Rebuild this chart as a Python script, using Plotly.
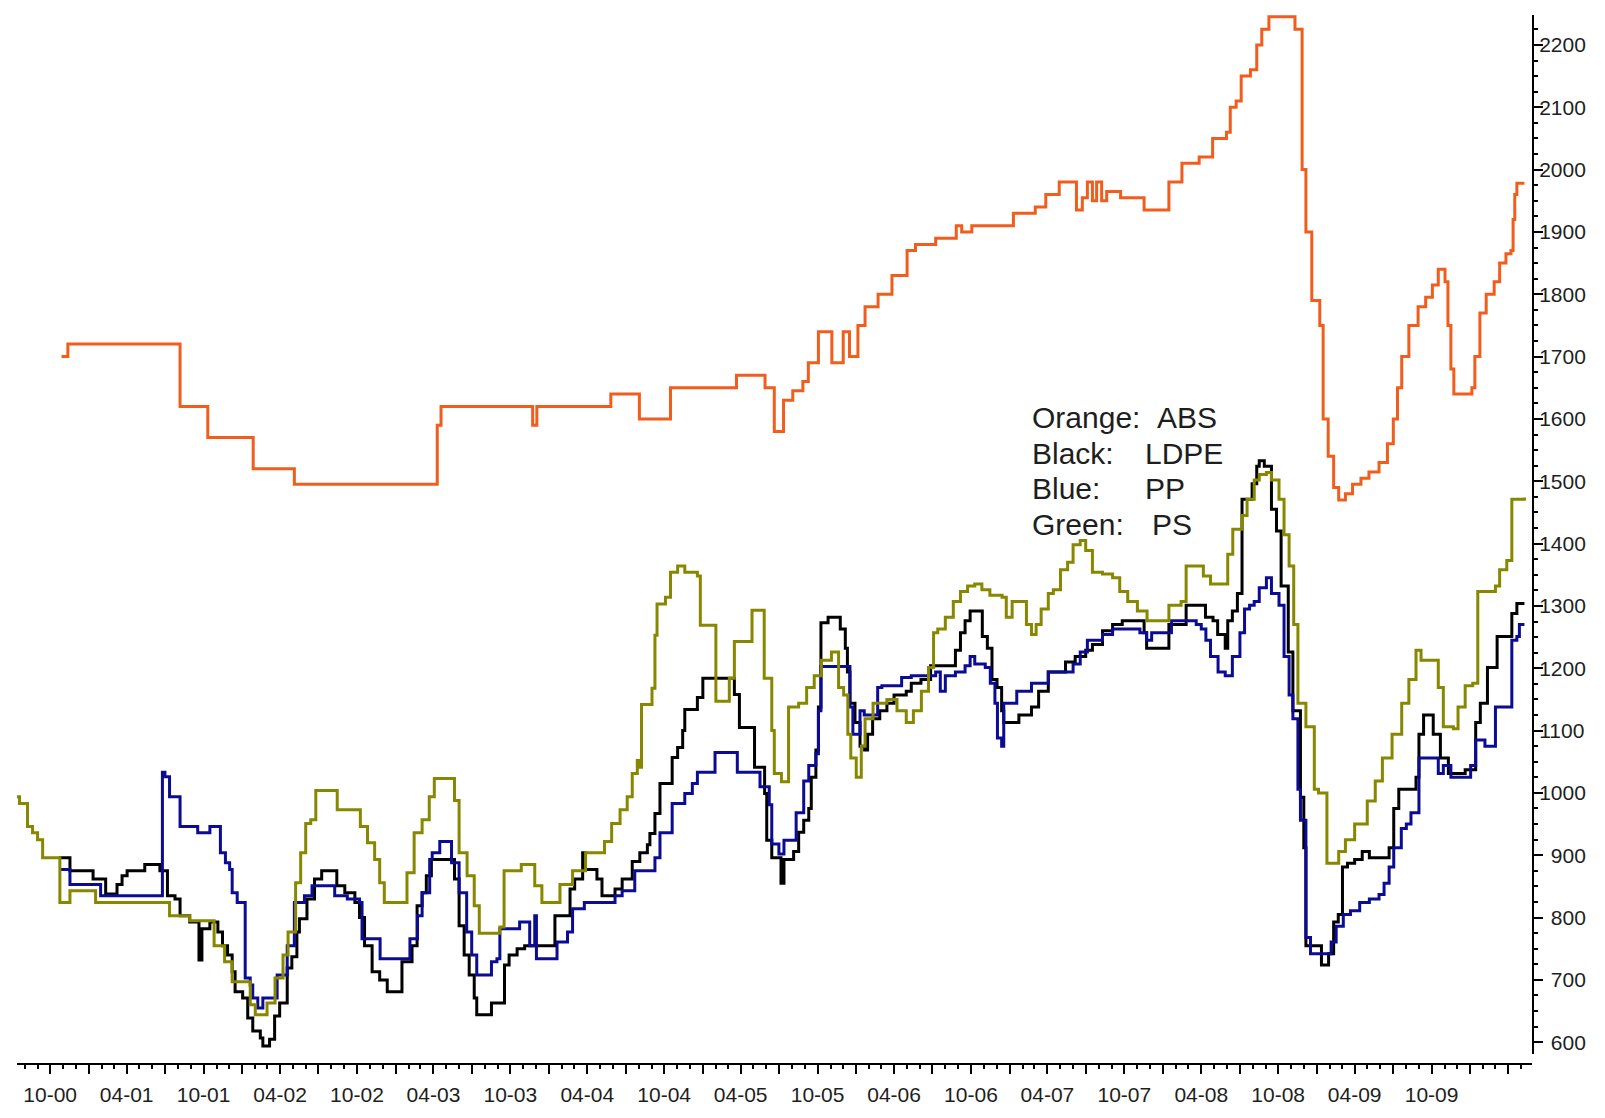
import plotly.graph_objects as go

# ---------------- data ----------------
ABS_DATES = ["2000-10-28", "2000-11-12", "2001-08-06", "2001-10-11", "2002-01-27", "2002-05-05",
             "2003-04-10", "2003-04-19", "2003-11-23", "2003-12-03", "2004-05-27", "2004-08-03",
             "2004-10-16", "2005-03-22", "2005-05-29", "2005-06-20", "2005-07-12", "2005-08-03",
             "2005-08-27", "2005-09-09", "2005-10-03", "2005-11-04", "2005-12-01", "2005-12-16",
             "2006-01-05", "2006-01-22", "2006-02-22", "2006-03-27", "2006-05-02", "2006-05-22",
             "2006-07-09", "2006-08-27", "2006-09-09", "2006-10-03", "2007-01-10", "2007-03-03",
             "2007-03-28", "2007-04-29", "2007-06-09", "2007-06-23", "2007-07-05", "2007-07-17",
             "2007-07-27", "2007-08-08", "2007-08-20", "2007-09-22", "2007-11-17", "2008-01-15",
             "2008-02-15", "2008-03-27", "2008-04-28", "2008-05-31", "2008-06-09", "2008-06-23",
             "2008-07-05", "2008-07-27", "2008-08-11", "2008-08-23", "2008-09-09", "2008-11-10",
             "2008-11-27", "2008-12-06", "2008-12-20", "2009-01-08", "2009-01-16", "2009-01-28",
             "2009-02-10", "2009-02-22", "2009-03-10", "2009-03-27", "2009-04-16", "2009-05-05",
             "2009-05-29", "2009-06-18", "2009-07-02", "2009-07-12", "2009-07-22", "2009-08-08",
             "2009-08-30", "2009-09-17", "2009-10-03", "2009-10-17", "2009-11-02", "2009-11-09",
             "2009-11-16", "2009-11-23", "2010-01-05", "2010-01-12", "2010-01-24", "2010-02-08",
             "2010-02-27", "2010-03-12", "2010-03-27", "2010-04-08", "2010-04-13", "2010-04-17",
             "2010-04-22", "2010-05-10"]
ABS_PRICES = [1700, 1720, 1620, 1570, 1520, 1495,
              1590, 1620, 1590, 1620, 1640, 1600,
              1650, 1670, 1650, 1580, 1630, 1645,
              1660, 1690, 1740, 1690, 1740, 1700,
              1750, 1780, 1800, 1830, 1870, 1880,
              1890, 1910, 1900, 1910, 1930, 1940,
              1960, 1980, 1935, 1955, 1980, 1950,
              1980, 1950, 1965, 1955, 1935, 1980,
              2010, 2020, 2050, 2060, 2100, 2110,
              2150, 2160, 2200, 2225, 2245, 2225,
              2000, 1900, 1790, 1750, 1600, 1540,
              1490, 1470, 1480, 1495, 1505, 1515,
              1530, 1560, 1600, 1650, 1700, 1750,
              1780, 1795, 1815, 1840, 1820, 1750,
              1680, 1640, 1650, 1700, 1770, 1800,
              1820, 1850, 1865, 1870, 1920, 1960,
              1978, 1978]

LDPE_DATES = ["2000-10-22", "2000-11-17", "2001-01-11", "2001-02-10", "2001-03-09", "2001-03-21",
              "2001-04-02", "2001-05-14", "2001-06-19", "2001-07-07", "2001-07-25", "2001-08-06",
              "2001-08-29", "2001-09-20", "2001-09-27", "2001-10-16", "2001-11-04", "2001-11-15",
              "2001-11-27", "2001-12-08", "2001-12-15", "2002-01-02", "2002-01-14", "2002-01-26",
              "2002-02-13", "2002-02-19", "2002-03-07", "2002-03-19", "2002-03-31", "2002-04-18",
              "2002-04-29", "2002-05-11", "2002-05-17", "2002-06-04", "2002-06-22", "2002-07-09",
              "2002-08-14", "2002-09-02", "2002-09-26", "2002-10-07", "2002-10-19", "2002-11-06",
              "2002-11-24", "2002-12-12", "2003-01-16", "2003-02-09", "2003-02-21", "2003-03-05",
              "2003-03-15", "2003-03-27", "2003-05-21", "2003-06-01", "2003-06-13", "2003-06-25",
              "2003-07-07", "2003-07-13", "2003-08-17", "2003-09-17", "2003-09-28", "2003-10-17",
              "2003-11-04", "2004-01-15", "2004-02-20", "2004-03-02", "2004-03-21", "2004-03-27",
              "2004-04-24", "2004-05-06", "2004-06-06", "2004-06-23", "2004-07-17", "2004-08-04",
              "2004-08-22", "2004-08-28", "2004-09-09", "2004-09-21", "2004-10-20", "2004-11-02",
              "2004-11-14", "2004-11-19", "2004-12-19", "2005-01-01", "2005-03-17", "2005-03-29",
              "2005-05-04", "2005-05-28", "2005-06-02", "2005-06-14", "2005-07-06", "2005-07-13",
              "2005-08-05", "2005-08-17", "2005-08-29", "2005-09-10", "2005-09-16", "2005-09-27",
              "2005-10-03", "2005-10-09", "2005-10-26", "2005-11-24", "2005-12-06", "2005-12-11",
              "2005-12-17", "2005-12-29", "2006-01-10", "2006-01-21", "2006-01-28", "2006-02-09",
              "2006-02-26", "2006-03-15", "2006-04-01", "2006-04-30", "2006-05-12", "2006-06-04",
              "2006-06-27", "2006-08-25", "2006-09-06", "2006-09-17", "2006-09-29", "2006-10-28",
              "2006-11-09", "2006-11-20", "2006-12-02", "2006-12-13", "2006-12-18", "2007-01-23",
              "2007-02-22", "2007-03-11", "2007-04-03", "2007-05-14", "2007-06-06", "2007-07-01",
              "2007-07-17", "2007-08-10", "2007-09-03", "2007-09-26", "2007-11-17", "2007-11-23",
              "2008-01-15", "2008-02-25", "2008-04-11", "2008-04-29", "2008-05-10", "2008-05-28",
              "2008-06-03", "2008-06-14", "2008-06-26", "2008-07-07", "2008-07-31", "2008-08-11",
              "2008-08-17", "2008-08-29", "2008-09-15", "2008-09-27", "2008-10-08", "2008-10-25",
              "2008-11-05", "2008-11-23", "2008-12-01", "2008-12-06", "2009-01-12", "2009-01-29",
              "2009-02-10", "2009-02-21", "2009-03-03", "2009-03-15", "2009-04-01", "2009-04-19",
              "2009-05-06", "2009-06-22", "2009-07-03", "2009-07-15", "2009-08-25", "2009-09-01",
              "2009-09-12", "2009-10-05", "2009-10-22", "2009-11-10", "2009-12-20", "2010-01-14",
              "2010-01-25", "2010-02-11", "2010-03-06", "2010-04-10", "2010-04-22", "2010-05-10"]
LDPE_PRICES = [896, 875, 862, 838, 853, 867,
               875, 885, 875, 835, 830, 803,
               793, 732, 782, 793, 777, 755,
               740, 713, 681, 671, 639, 618,
               607, 594, 605, 642, 663, 719,
               737, 777, 798, 830, 862, 875,
               851, 840, 824, 800, 755, 713,
               700, 681, 729, 755, 819, 840,
               867, 893, 862, 787, 740, 708,
               671, 644, 663, 724, 740, 750,
               755, 803, 846, 862, 904, 877,
               862, 835, 846, 862, 890, 904,
               917, 935, 967, 1015, 1057, 1073,
               1100, 1134, 1153, 1184, 1158, 1105,
               1041, 999, 924, 896, 855, 893,
               906, 937, 956, 975, 1025, 1069,
               1138, 1273, 1282, 1263, 1232, 1194,
               1144, 1113, 1075, 1069, 1094, 1119,
               1132, 1144, 1157, 1163, 1176, 1182,
               1204, 1229, 1257, 1276, 1292, 1251,
               1232, 1182, 1169, 1132, 1113, 1125,
               1138, 1163, 1194, 1210, 1219, 1229,
               1238, 1260, 1270, 1276, 1257, 1232,
               1270, 1301, 1282, 1276, 1254, 1232,
               1276, 1292, 1320, 1471, 1496, 1524,
               1533, 1524, 1455, 1420, 1332, 1226,
               1132, 993, 912, 755, 724, 742,
               793, 805, 881, 887, 893, 906,
               896, 912, 975, 1006, 1025, 1094,
               1125, 1094, 1056, 1031, 1037, 1113,
               1144, 1201, 1251, 1288, 1304, 1304]

PP_DATES = ["2000-10-24", "2000-11-17", "2001-01-29", "2001-06-25", "2001-07-01", "2001-07-12",
            "2001-08-06", "2001-09-17", "2001-10-16", "2001-11-10", "2001-11-22", "2001-12-02",
            "2001-12-08", "2001-12-20", "2002-01-08", "2002-01-20", "2002-01-26", "2002-02-07",
            "2002-02-19", "2002-03-25", "2002-04-18", "2002-05-05", "2002-05-29", "2002-06-16",
            "2002-08-09", "2002-09-08", "2002-10-07", "2002-10-13", "2002-11-25", "2003-02-04",
            "2003-02-22", "2003-03-05", "2003-03-23", "2003-03-29", "2003-04-16", "2003-05-14",
            "2003-06-01", "2003-06-19", "2003-07-01", "2003-07-13", "2003-08-17", "2003-08-30",
            "2003-09-06", "2003-10-23", "2003-11-16", "2003-11-28", "2003-12-02", "2004-01-20",
            "2004-02-14", "2004-02-26", "2004-03-25", "2004-06-06", "2004-06-23", "2004-07-23",
            "2004-09-09", "2004-09-21", "2004-10-20", "2004-11-19", "2004-12-07", "2004-12-19",
            "2005-01-30", "2005-03-24", "2005-05-17", "2005-06-08", "2005-06-14", "2005-07-01",
            "2005-07-13", "2005-08-11", "2005-08-29", "2005-09-10", "2005-09-27", "2005-10-03",
            "2005-10-09", "2005-12-17", "2005-12-24", "2006-01-10", "2006-01-20", "2006-02-21",
            "2006-03-03", "2006-04-19", "2006-05-12", "2006-07-09", "2006-07-20", "2006-08-01",
            "2006-08-25", "2006-09-17", "2006-09-29", "2006-10-10", "2006-11-04", "2006-11-16",
            "2006-11-27", "2006-12-03", "2006-12-13", "2006-12-18", "2007-01-18", "2007-02-22",
            "2007-04-03", "2007-06-01", "2007-06-18", "2007-07-05", "2007-08-10", "2007-09-03",
            "2007-11-07", "2007-11-23", "2007-12-05", "2008-01-21", "2008-03-20", "2008-04-01",
            "2008-04-12", "2008-04-23", "2008-05-11", "2008-05-28", "2008-06-14", "2008-07-02",
            "2008-07-13", "2008-07-25", "2008-08-05", "2008-08-17", "2008-09-03", "2008-09-15",
            "2008-10-03", "2008-10-15", "2008-10-27", "2008-11-05", "2008-11-17", "2008-11-23",
            "2008-12-06", "2008-12-17", "2009-02-04", "2009-02-16", "2009-03-05", "2009-03-22",
            "2009-04-13", "2009-05-06", "2009-05-29", "2009-06-10", "2009-06-22", "2009-07-03",
            "2009-07-21", "2009-08-02", "2009-08-13", "2009-09-01", "2009-10-17", "2009-10-29",
            "2009-11-16", "2010-01-02", "2010-01-14", "2010-02-05", "2010-03-02", "2010-04-10",
            "2010-04-22", "2010-04-28", "2010-05-10"]
PP_PRICES = [877, 853, 835, 1033, 1026, 994,
             946, 936, 946, 904, 888, 877,
             840, 824, 703, 692, 671, 655,
             671, 708, 755, 824, 835, 851,
             835, 830, 824, 766, 734, 766,
             803, 840, 893, 904, 922, 888,
             840, 777, 740, 708, 729, 734,
             782, 793, 755, 803, 734, 761,
             777, 814, 824, 835, 843, 875,
             896, 936, 983, 999, 1015, 1033,
             1065, 1033, 1010, 981, 918, 902,
             924, 968, 1019, 1044, 1063, 1132,
             1203, 1138, 1094, 1132, 1125, 1169,
             1172, 1185, 1188, 1194, 1163, 1188,
             1194, 1204, 1219, 1207, 1201, 1176,
             1144, 1088, 1075, 1144, 1163, 1176,
             1194, 1207, 1226, 1245, 1254, 1263,
             1257, 1245, 1257, 1276, 1270, 1263,
             1245, 1219, 1194, 1188, 1219, 1257,
             1295, 1301, 1307, 1329, 1345, 1320,
             1301, 1219, 1157, 1119, 1006, 956,
             768, 742, 761, 786, 805, 811,
             824, 830, 837, 855, 881, 912,
             943, 950, 968, 1056, 1031, 1044,
             1025, 1044, 1085, 1075, 1138, 1245,
             1251, 1270, 1270]

PS_DATES = ["2000-07-14", "2000-07-20", "2000-08-08", "2000-08-20", "2000-09-01", "2000-09-13",
            "2000-10-24", "2000-11-17", "2001-01-17", "2001-07-12", "2001-08-29", "2001-10-26",
            "2001-11-20", "2001-12-08", "2002-01-20", "2002-02-01", "2002-03-01", "2002-03-20",
            "2002-04-08", "2002-04-20", "2002-05-08", "2002-05-20", "2002-06-01", "2002-06-13",
            "2002-06-25", "2002-08-15", "2002-10-09", "2002-10-26", "2002-11-12", "2002-11-24",
            "2002-12-05", "2003-01-28", "2003-02-14", "2003-03-05", "2003-03-22", "2003-04-03",
            "2003-05-21", "2003-06-01", "2003-06-20", "2003-07-07", "2003-07-19", "2003-09-06",
            "2003-09-16", "2003-10-27", "2003-11-28", "2003-12-15", "2004-01-27", "2004-02-26",
            "2004-03-28", "2004-05-12", "2004-05-29", "2004-06-18", "2004-07-05", "2004-07-17",
            "2004-07-29", "2004-08-04", "2004-08-08", "2004-09-02", "2004-09-09", "2004-09-14",
            "2004-10-04", "2004-10-16", "2004-11-02", "2004-11-19", "2004-12-19", "2004-12-26",
            "2005-02-01", "2005-03-05", "2005-03-17", "2005-04-28", "2005-05-27", "2005-06-14",
            "2005-06-20", "2005-07-07", "2005-07-24", "2005-08-17", "2005-09-05", "2005-09-23",
            "2005-10-10", "2005-11-03", "2005-11-20", "2005-12-02", "2005-12-12", "2005-12-19",
            "2006-01-01", "2006-01-13", "2006-01-22", "2006-02-10", "2006-03-15", "2006-04-08",
            "2006-04-30", "2006-05-17", "2006-06-05", "2006-06-22", "2006-07-04", "2006-07-14",
            "2006-08-01", "2006-08-20", "2006-09-06", "2006-09-23", "2006-10-10", "2006-10-27",
            "2006-11-15", "2006-12-14", "2006-12-24", "2007-01-07", "2007-02-10", "2007-02-22",
            "2007-03-05", "2007-03-17", "2007-04-03", "2007-04-15", "2007-05-02", "2007-05-19",
            "2007-06-01", "2007-06-18", "2007-07-01", "2007-07-17", "2007-08-10", "2007-09-03",
            "2007-09-20", "2007-10-09", "2007-11-01", "2007-11-24", "2008-01-15", "2008-02-13",
            "2008-02-25", "2008-04-06", "2008-04-23", "2008-06-03", "2008-06-15", "2008-07-07",
            "2008-07-19", "2008-08-05", "2008-08-17", "2008-09-03", "2008-09-15", "2008-10-03",
            "2008-10-15", "2008-10-27", "2008-11-07", "2008-11-17", "2008-12-06", "2008-12-26",
            "2009-01-05", "2009-01-25", "2009-02-22", "2009-03-10", "2009-04-01", "2009-05-01",
            "2009-05-20", "2009-06-06", "2009-06-29", "2009-07-22", "2009-08-08", "2009-08-25",
            "2009-09-06", "2009-10-17", "2009-10-29", "2009-11-22", "2009-12-03", "2009-12-20",
            "2010-01-07", "2010-01-19", "2010-03-02", "2010-03-12", "2010-03-29", "2010-04-10",
            "2010-05-10"]
PS_PRICES = [994, 983, 946, 936, 925, 896,
             824, 843, 824, 803, 795, 755,
             729, 697, 660, 644, 663, 703,
             740, 777, 856, 904, 951, 957,
             1004, 973, 946, 920, 893, 856,
             824, 872, 936, 957, 994, 1023,
             988, 904, 867, 819, 775, 785,
             875, 885, 851, 824, 853, 875,
             904, 922, 951, 973, 994, 1031,
             1052, 1041, 1142, 1168, 1253, 1303,
             1314, 1354, 1364, 1354, 1348, 1269,
             1147, 1184, 1243, 1293, 1184, 1100,
             1031, 1018, 1138, 1144, 1169, 1188,
             1213, 1226, 1169, 1157, 1094, 1056,
             1025, 1075, 1119, 1144, 1150, 1132,
             1113, 1132, 1163, 1201, 1257, 1263,
             1282, 1307, 1323, 1332, 1335, 1326,
             1317, 1314, 1282, 1307, 1270, 1254,
             1270, 1295, 1320, 1326, 1358, 1370,
             1398, 1405, 1389, 1354, 1351, 1345,
             1323, 1307, 1292, 1276, 1301, 1307,
             1364, 1348, 1335, 1383, 1423, 1445,
             1471, 1502, 1511, 1514, 1502, 1471,
             1414, 1364, 1270, 1144, 1106, 1006,
             1000, 887, 906, 925, 950, 987,
             1019, 1056, 1094, 1144, 1182, 1229,
             1213, 1169, 1106, 1103, 1138, 1172,
             1176, 1323, 1332, 1358, 1373, 1471,
             1474]

X_TICK_DATES = ["2000-07-01", "2000-10-01",
                "2001-01-01", "2001-04-01", "2001-07-01", "2001-10-01",
                "2002-01-01", "2002-04-01", "2002-07-01", "2002-10-01",
                "2003-01-01", "2003-04-01", "2003-07-01", "2003-10-01",
                "2004-01-01", "2004-04-01", "2004-07-01", "2004-10-01",
                "2005-01-01", "2005-04-01", "2005-07-01", "2005-10-01",
                "2006-01-01", "2006-04-01", "2006-07-01", "2006-10-01",
                "2007-01-01", "2007-04-01", "2007-07-01", "2007-10-01",
                "2008-01-01", "2008-04-01", "2008-07-01", "2008-10-01",
                "2009-01-01", "2009-04-01", "2009-07-01", "2009-10-01",
                "2010-01-01", "2010-04-01"]
X_TICK_LABELS = ["", "10-00",
                 "", "04-01", "", "10-01",
                 "", "04-02", "", "10-02",
                 "", "04-03", "", "10-03",
                 "", "04-04", "", "10-04",
                 "", "04-05", "", "10-05",
                 "", "04-06", "", "10-06",
                 "", "04-07", "", "10-07",
                 "", "04-08", "", "10-08",
                 "", "04-09", "", "10-09",
                 "", ""]
Y_TICK_VALUES = [600, 700, 800, 900, 1000, 1100, 1200, 1300, 1400,
                 1500, 1600, 1700, 1800, 1900, 2000, 2100, 2200]
Y_TICK_LABELS = ["\u2007600", "\u2007700", "\u2007800", "\u2007900", "1000", "1100", "1200",
                 "1300", "1400", "1500", "1600", "1700", "1800", "1900", "2000", "2100", "2200"]

KEY_NAMES = ["Orange:", "Black:", "Blue:", "Green:"]
KEY_PRODUCTS = ["ABS", "LDPE", "PP", "PS"]

# ---------------- figure ----------------
W, H = 1605, 1118
ML, MR, MT, MB = 17, 73, 15, 45
PW, PH = W - ML - MR, H - MT - MB
FONT = "Liberation Sans, Arial, sans-serif"

series = [
    ("LDPE", LDPE_DATES, LDPE_PRICES, "#000000"),
    ("PP", PP_DATES, PP_PRICES, "#0b0b94"),
    ("PS", PS_DATES, PS_PRICES, "#878700"),
    ("ABS", ABS_DATES, ABS_PRICES, "#f05d1c"),
]

fig = go.Figure()
for name, d, v, c in series:
    fig.add_trace(go.Scatter(x=d, y=v, mode="lines", name=name, showlegend=False,
                             line=dict(color=c, width=3, shape="hv")))

axis_font = dict(family=FONT, size=21, color="#1e1e1e")

fig.update_layout(
    width=W, height=H,
    margin=dict(l=ML, r=MR, t=MT, b=MB, pad=0),
    paper_bgcolor="white", plot_bgcolor="white",
    showlegend=False,
    xaxis=dict(
        type="date", range=["2000-07-14", "2010-05-28"],
        anchor="free", position=0,
        showline=True, linecolor="black", linewidth=2,
        showgrid=False, zeroline=False,
        ticks="outside", ticklen=9, tickwidth=2, tickcolor="black",
        tickmode="array", tickvals=X_TICK_DATES, ticktext=X_TICK_LABELS,
        tickfont=axis_font, ticklabelstandoff=3,
        minor=dict(tickmode="linear", dtick="M1", tick0="2000-07-01",
                   ticks="outside", ticklen=4, tickwidth=2, tickcolor="black",
                   showgrid=False),
    ),
    yaxis=dict(
        range=[581, 2248], domain=[10 / PH, 1],
        side="right", anchor="x",
        showline=True, linecolor="black", linewidth=2,
        showgrid=False, zeroline=False,
        ticks="outside", ticklen=9, tickwidth=2, tickcolor="black",
        tickmode="array", tickvals=Y_TICK_VALUES, ticktext=Y_TICK_LABELS,
        tickfont=axis_font, ticklabelstandoff=-8,
        minor=dict(tickmode="linear", dtick=25, tick0=0,
                   ticks="outside", ticklen=4, tickwidth=2, tickcolor="black",
                   showgrid=False),
    ),
)

# key text (upper middle of the plot)
label_x_px = 1030
product_x_px = [1155, 1143, 1143, 1150]
line_centers_px = [421, 457, 493, 529]
key_font = dict(family=FONT, size=30, color="#1e1e1e")
for i in range(4):
    yc = (H - MB - line_centers_px[i]) / PH
    fig.add_annotation(text=KEY_NAMES[i], xref="paper", yref="paper",
                       x=(label_x_px - ML) / PW, y=yc, xanchor="left", yanchor="middle",
                       showarrow=False, font=key_font)
    fig.add_annotation(text=KEY_PRODUCTS[i], xref="paper", yref="paper",
                       x=(product_x_px[i] - ML) / PW, y=yc, xanchor="left", yanchor="middle",
                       showarrow=False, font=key_font)

fig.write_html("out.html", config={"displayModeBar": False},
               post_script="document.body.style.margin='0px';")
